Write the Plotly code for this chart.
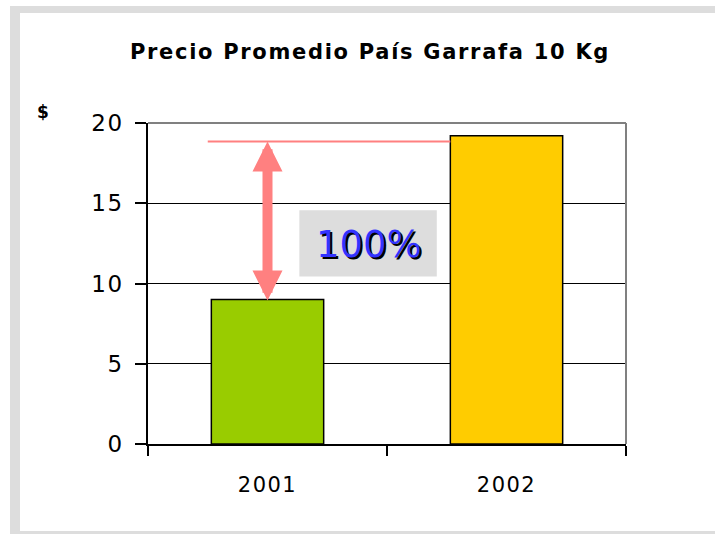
import plotly.graph_objects as go

# ---- data ----
years = ["2001", "2002"]
prices = [9.0, 19.2]
bar_colors = ["#99CC00", "#FFCC00"]
y_ticks = [0, 5, 10, 15, 20]
y_tick_labels = ["0", "5", "10", "15", "20"]
ref_level = 18.85
base_level = 9.0
change_label = "100%"
title_text = "Precio Promedio País Garrafa 10 Kg"
unit_label = "$"

# ---- layout geometry (pixels) ----
W, H = 715, 534
L, R, T, B = 148, 626, 123, 444


def px(x):
    return (x - L) / (R - L)


def py(y):
    return (B - y) / (B - T)


def spaced(s, sp):
    return f'<span style="letter-spacing:{sp}px">{s}</span>'


FONT = "DejaVu Sans, Arial, sans-serif"

fig = go.Figure()
fig.add_trace(go.Bar(
    x=years, y=prices, width=0.47,
    marker=dict(color=bar_colors, line=dict(color="black", width=1.5)),
    hoverinfo="skip", showlegend=False,
))

shapes = []
grey = "#DDDDDD"
shapes.append(dict(type="rect", xref="paper", yref="paper", layer="below",
                   x0=px(10), x1=px(20), y0=py(6), y1=py(534),
                   fillcolor=grey, line=dict(width=0)))
shapes.append(dict(type="rect", xref="paper", yref="paper", layer="below",
                   x0=px(10), x1=px(715), y0=py(6), y1=py(13),
                   fillcolor=grey, line=dict(width=0)))
shapes.append(dict(type="rect", xref="paper", yref="paper", layer="below",
                   x0=px(10), x1=px(715), y0=py(531), y1=py(534),
                   fillcolor=grey, line=dict(width=0)))
shapes.append(dict(type="line", xref="paper", yref="paper",
                   x0=0, x1=1, y0=1, y1=1, line=dict(color="#808080", width=2)))
shapes.append(dict(type="line", xref="paper", yref="paper",
                   x0=1, x1=1, y0=0, y1=1, line=dict(color="#808080", width=2)))
shapes.append(dict(type="line", xref="x", yref="y",
                   x0=-0.25, x1=1 - 0.235, y0=ref_level, y1=ref_level,
                   line=dict(color="#FF8080", width=2)))
shapes.append(dict(type="rect", xref="x", yref="y",
                   x0=(300 - L) / 240 - 0.5, x1=(438 - L) / 240 - 0.5,
                   y0=(B - 277) / 16, y1=(B - 211) / 16,
                   fillcolor="#DDDDDD", line=dict(width=0)))

annotations = []
annotations.append(dict(
    x=0, y=ref_level, ax=0, ay=base_level - 0.15, xref="x", yref="y", axref="x", ayref="y",
    showarrow=True, arrowhead=2, startarrowhead=2, arrowside="end+start",
    arrowwidth=10, arrowsize=0.6, startarrowsize=0.6,
    arrowcolor="#FF8080", standoff=0, startstandoff=0, text="",
))
annotations.append(dict(
    x=(370 - L) / 240 - 0.5, y=(B - 245) / 16, xref="x", yref="y",
    text=change_label, showarrow=False,
    font=dict(family=FONT, size=37, color="#3333FF", shadow="2px 2px 0px #000000"),
    xanchor="center", yanchor="middle",
))
annotations.append(dict(
    x=px(42.5), y=py(112), xref="paper", yref="paper",
    text="<b>" + unit_label + "</b>", showarrow=False,
    font=dict(family=FONT, size=17, color="black"),
    xanchor="center", yanchor="middle",
))

fig.update_layout(
    width=W, height=H,
    margin=dict(l=L, r=W - R, t=T, b=H - B, pad=0),
    paper_bgcolor="white", plot_bgcolor="white",
    font=dict(family=FONT, color="black"),
    title=dict(text="<b>" + spaced(title_text, 1.7) + "</b>",
               x=370 / W, xanchor="center", xref="container",
               y=1 - 52 / H, yanchor="middle", yref="container",
               font=dict(family=FONT, size=21, color="black")),
    shapes=shapes,
    annotations=annotations,
)

fig.update_xaxes(
    type="category", range=[-0.5, 1.5],
    tickmode="array", tickvals=years, ticktext=[spaced(y, 1.5) for y in years],
    tickson="boundaries", ticks="outside", ticklen=10, tickwidth=1.5, tickcolor="black",
    ticklabelstandoff=21,
    showline=True, linecolor="black", linewidth=1.5,
    showgrid=False, zeroline=False,
    tickfont=dict(family=FONT, size=21, color="black"),
    fixedrange=True,
)
fig.update_yaxes(
    range=[0, 20], tickmode="array", tickvals=y_ticks,
    ticktext=[spaced(t, 1.5) for t in y_tick_labels],
    ticks="outside", ticklen=11, tickwidth=1.5, tickcolor="black",
    ticklabelstandoff=7,
    showline=True, linecolor="black", linewidth=1.5,
    showgrid=True, gridcolor="black", gridwidth=1,
    zeroline=False,
    tickfont=dict(family=FONT, size=23, color="black"),
    fixedrange=True,
)

fig.write_html("out.html", config={"displayModeBar": False},
               post_script="document.body.style.margin='0px';")
